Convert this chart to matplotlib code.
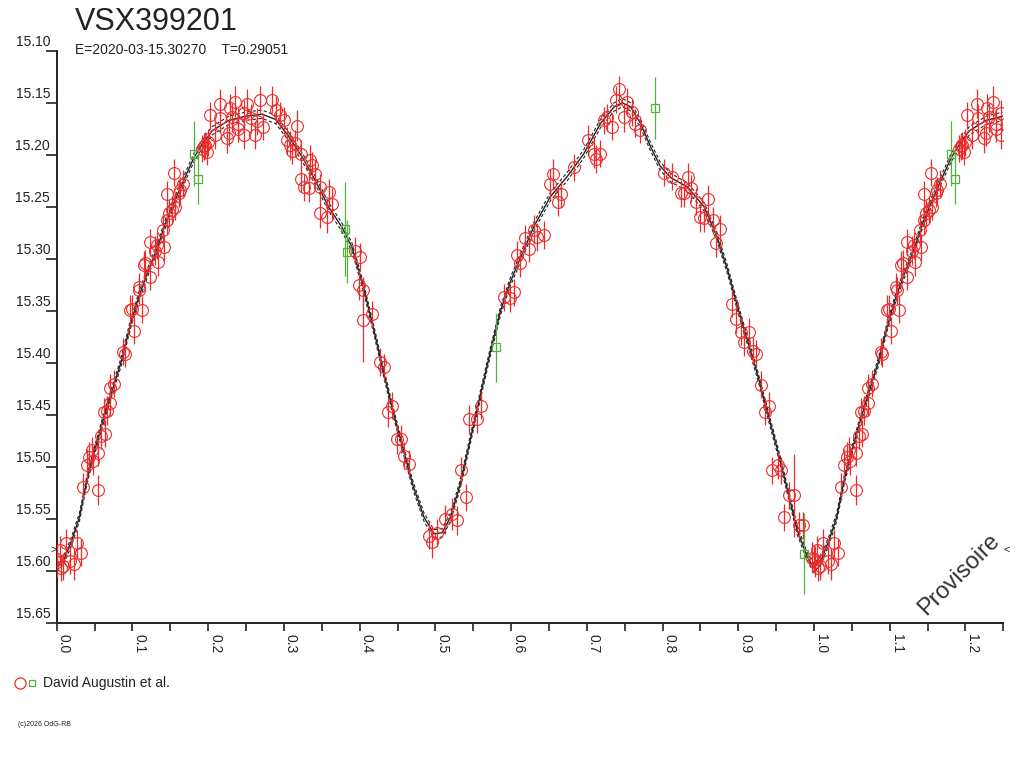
import numpy as np
import matplotlib
matplotlib.use("Agg")
import matplotlib.pyplot as plt
from matplotlib.transforms import ScaledTranslation

plt.rcParams['font.family'] = ['Liberation Sans', 'DejaVu Sans']

# ---- observations (phase in [0,1), magnitude, error) ----
red_phase = [
    0.000, 0.004, 0.001, 0.008, 0.012, 0.018, 0.023, 0.027, 0.032, 0.005,
    0.035, 0.055, 0.040, 0.043, 0.046, 0.055, 0.048, 0.064, 0.059, 0.066,
    0.062, 0.071, 0.071, 0.076, 0.090, 0.088, 0.102, 0.097, 0.099, 0.112,
    0.108, 0.109, 0.123, 0.117, 0.115, 0.134, 0.123, 0.130, 0.141, 0.132,
    0.140, 0.145, 0.148, 0.156, 0.152, 0.145, 0.161, 0.163, 0.167, 0.155,
    0.194, 0.198, 0.202, 0.196, 0.200, 0.192, 0.215, 0.216, 0.209, 0.225,
    0.227, 0.229, 0.236, 0.231, 0.240, 0.240, 0.247, 0.251, 0.247, 0.256,
    0.262, 0.264, 0.269, 0.273, 0.284, 0.289, 0.295, 0.300, 0.317, 0.304,
    0.308, 0.315, 0.311, 0.322, 0.335, 0.337, 0.341, 0.322, 0.326, 0.333,
    0.348, 0.359, 0.364, 0.348, 0.357, 0.394, 0.401, 0.399, 0.405, 0.405,
    0.416, 0.427, 0.432, 0.443, 0.438, 0.449, 0.454, 0.458, 0.465, 0.491,
    0.496, 0.502, 0.513, 0.522, 0.529, 0.540, 0.534, 0.544, 0.555, 0.560,
    0.591, 0.598, 0.604, 0.608, 0.612, 0.619, 0.623, 0.630, 0.634, 0.643,
    0.651, 0.656, 0.662, 0.666, 0.683, 0.701, 0.709, 0.712, 0.717, 0.723,
    0.727, 0.733, 0.738, 0.743, 0.749, 0.753, 0.760, 0.764, 0.770, 0.802,
    0.812, 0.824, 0.834, 0.828, 0.838, 0.844, 0.849, 0.855, 0.860, 0.867,
    0.876, 0.871, 0.892, 0.897, 0.903, 0.914, 0.908, 0.919, 0.924, 0.930,
    0.941, 0.935, 0.945, 0.957, 0.952, 0.967, 0.974, 0.961, 0.980, 0.985,
    0.998,
]
red_mag = [
    15.588, 15.580, 15.591, 15.595, 15.573, 15.590, 15.593, 15.573, 15.582, 15.597,
    15.519, 15.522, 15.498, 15.490, 15.484, 15.486, 15.494, 15.468, 15.470, 15.446,
    15.447, 15.438, 15.424, 15.420, 15.391, 15.389, 15.369, 15.349, 15.348, 15.349,
    15.327, 15.330, 15.317, 15.304, 15.306, 15.303, 15.284, 15.292, 15.289, 15.287,
    15.272, 15.263, 15.256, 15.250, 15.253, 15.238, 15.237, 15.234, 15.228, 15.217,
    15.192, 15.197, 15.162, 15.191, 15.188, 15.194, 15.151, 15.165, 15.181, 15.184,
    15.179, 15.155, 15.149, 15.164, 15.170, 15.175, 15.181, 15.151, 15.160, 15.165,
    15.181, 15.168, 15.147, 15.173, 15.147, 15.157, 15.162, 15.167, 15.172, 15.186,
    15.191, 15.189, 15.196, 15.199, 15.205, 15.210, 15.218, 15.223, 15.231, 15.232,
    15.231, 15.236, 15.247, 15.256, 15.260, 15.292, 15.298, 15.325, 15.330, 15.359,
    15.353, 15.399, 15.404, 15.441, 15.447, 15.473, 15.473, 15.489, 15.497, 15.566,
    15.572, 15.563, 15.550, 15.545, 15.551, 15.529, 15.503, 15.454, 15.454, 15.441,
    15.337, 15.338, 15.332, 15.296, 15.304, 15.280, 15.290, 15.272, 15.279, 15.277,
    15.228, 15.218, 15.245, 15.238, 15.212, 15.186, 15.199, 15.204, 15.199, 15.167,
    15.164, 15.173, 15.147, 15.137, 15.164, 15.149, 15.159, 15.170, 15.176, 15.217,
    15.221, 15.237, 15.221, 15.237, 15.232, 15.245, 15.260, 15.261, 15.242, 15.263,
    15.271, 15.285, 15.343, 15.358, 15.370, 15.370, 15.380, 15.388, 15.391, 15.421,
    15.441, 15.447, 15.503, 15.503, 15.498, 15.527, 15.527, 15.548, 15.556, 15.556,
    15.587,
]
red_err = [
    0.013, 0.014, 0.015, 0.013, 0.014, 0.013, 0.015, 0.013, 0.013, 0.012,
    0.013, 0.014, 0.015, 0.014, 0.013, 0.013, 0.014, 0.013, 0.013, 0.014,
    0.013, 0.013, 0.013, 0.013, 0.013, 0.013, 0.013, 0.014, 0.013, 0.013,
    0.013, 0.013, 0.013, 0.013, 0.014, 0.013, 0.013, 0.014, 0.013, 0.013,
    0.013, 0.013, 0.013, 0.013, 0.013, 0.013, 0.013, 0.013, 0.013, 0.013,
    0.013, 0.013, 0.013, 0.013, 0.013, 0.013, 0.014, 0.014, 0.013, 0.014,
    0.013, 0.013, 0.015, 0.014, 0.015, 0.013, 0.013, 0.014, 0.013, 0.014,
    0.013, 0.013, 0.013, 0.013, 0.013, 0.013, 0.013, 0.013, 0.015, 0.013,
    0.014, 0.013, 0.013, 0.013, 0.014, 0.013, 0.013, 0.013, 0.013, 0.013,
    0.013, 0.013, 0.015, 0.014, 0.015, 0.013, 0.013, 0.014, 0.013, 0.040,
    0.013, 0.013, 0.013, 0.013, 0.014, 0.014, 0.013, 0.013, 0.013, 0.013,
    0.015, 0.013, 0.014, 0.015, 0.014, 0.013, 0.013, 0.014, 0.013, 0.013,
    0.013, 0.013, 0.013, 0.013, 0.013, 0.013, 0.013, 0.014, 0.013, 0.013,
    0.014, 0.014, 0.014, 0.013, 0.013, 0.015, 0.014, 0.013, 0.013, 0.013,
    0.013, 0.013, 0.013, 0.013, 0.014, 0.013, 0.013, 0.013, 0.013, 0.013,
    0.013, 0.013, 0.013, 0.013, 0.013, 0.013, 0.014, 0.013, 0.013, 0.013,
    0.013, 0.013, 0.013, 0.013, 0.013, 0.013, 0.013, 0.013, 0.013, 0.013,
    0.013, 0.013, 0.013, 0.013, 0.013, 0.013, 0.040, 0.013, 0.013, 0.013,
    0.015,
]

green_phase = [0.1815, 0.186, 0.381, 0.383, 0.580, 0.790, 0.987]
green_mag = [15.199, 15.223, 15.271, 15.293, 15.385, 15.155, 15.583]
green_err = [0.031, 0.024, 0.045, 0.030, 0.033, 0.030, 0.039]

# ---- fitted light curve ----
fit_phase = [
    0.000, 0.010, 0.020, 0.030, 0.040, 0.050, 0.060, 0.070, 0.085, 0.097,
    0.108, 0.120, 0.132, 0.144, 0.156, 0.168, 0.181, 0.192, 0.205, 0.227,
    0.249, 0.271, 0.289, 0.306, 0.324, 0.341, 0.359, 0.377, 0.390, 0.405,
    0.419, 0.432, 0.445, 0.458, 0.471, 0.485, 0.498, 0.509, 0.520, 0.533,
    0.546, 0.560, 0.573, 0.586, 0.599, 0.610, 0.630, 0.652, 0.674, 0.696,
    0.718, 0.736, 0.747, 0.758, 0.771, 0.784, 0.797, 0.811, 0.833, 0.855,
    0.872, 0.886, 0.899, 0.912, 0.925, 0.938, 0.952, 0.965, 0.978, 0.991,
    1.000,
]
fit_mag = [
    15.597, 15.588, 15.570, 15.548, 15.512, 15.484, 15.458, 15.434, 15.399, 15.364,
    15.337, 15.313, 15.291, 15.265, 15.244, 15.224, 15.203, 15.190, 15.177, 15.167,
    15.163, 15.161, 15.166, 15.182, 15.202, 15.224, 15.250, 15.270, 15.289, 15.327,
    15.369, 15.410, 15.449, 15.484, 15.519, 15.548, 15.564, 15.563, 15.548, 15.516,
    15.474, 15.429, 15.388, 15.350, 15.322, 15.303, 15.269, 15.240, 15.221, 15.199,
    15.170, 15.154, 15.150, 15.154, 15.170, 15.192, 15.211, 15.222, 15.231, 15.250,
    15.279, 15.311, 15.346, 15.378, 15.410, 15.446, 15.484, 15.522, 15.561, 15.586,
    15.597,
]
fit_band = 0.004
min_level = 15.579

title = "VSX399201"
subtitle = "E=2020-03-15.30270    T=0.29051"
observer = "David Augustin et al."


def extend(ph, mg, er=None, upto=0.25):
    ph = np.asarray(ph)
    mg = np.asarray(mg)
    sel = ph < upto
    out = [np.concatenate([ph, ph[sel] + 1.0]), np.concatenate([mg, mg[sel]])]
    if er is not None:
        er = np.asarray(er)
        out.append(np.concatenate([er, er[sel]]))
    return out


rp, rm, re = extend(red_phase, red_mag, red_err)
gp, gm, ge = extend(green_phase, green_mag, green_err)
fp = np.asarray(fit_phase)
fm = np.asarray(fit_mag)
sel = (fp > 0) & (fp <= 0.26)
fp = np.concatenate([fp, fp[sel] + 1.0])
fm = np.concatenate([fm, fm[sel]])

fig = plt.figure(figsize=(10.24, 7.68), dpi=100)
ax = fig.add_axes([0.0554, 0.1884, 0.9244, 0.7456])

red = '#ee2a2a'
green = '#55b040'
ink = '#222222'

ax.plot(fp, fm, color=ink, lw=1.0, zorder=3)
ax.plot(fp, fm - fit_band, color=ink, lw=0.8, ls=(0, (3, 2)), zorder=3)
ax.plot(fp, fm + fit_band, color=ink, lw=0.8, ls=(0, (3, 2)), zorder=3)

ax.errorbar(rp, rm, yerr=re, fmt='o', ms=8.5, mfc='none', mec=red, mew=0.8,
            ecolor=red, elinewidth=0.9, capsize=0, zorder=4)
ax.errorbar(gp, gm, yerr=ge, fmt='s', ms=6, mfc='none', mec=green, mew=0.9,
            ecolor=green, elinewidth=0.9, capsize=0, zorder=4)

ax.set_xlim(0, 1.25)
ax.set_ylim(15.65, 15.10)

for s in ['top', 'right']:
    ax.spines[s].set_visible(False)
for s in ['left', 'bottom']:
    ax.spines[s].set_color(ink)
    ax.spines[s].set_linewidth(1.4)

xt = np.round(np.arange(0, 1.2501, 0.05), 2)
ax.set_xticks(xt)
ax.set_xticklabels([f"{v:.1f}" if abs(v * 10 - round(v * 10)) < 1e-6 else "" for v in xt],
                   rotation=-90, ha='left', va='top', fontsize=10, color=ink)
ax.tick_params(axis='x', length=6, width=1.2, color=ink, pad=2)

yt = np.round(np.arange(15.10, 15.651, 0.05), 2)
ax.set_yticks(yt)
ax.set_yticklabels([f"{v:.2f}" for v in yt], fontsize=10, color=ink, va='bottom')
ax.tick_params(axis='y', length=7.7, width=1.2, color=ink, pad=-3)
off = ScaledTranslation(0, 1.5 / 72, fig.dpi_scale_trans)
for lab in ax.get_yticklabels():
    lab.set_transform(lab.get_transform() + off)

# minimum level markers
ax.text(0, min_level, ">", ha='right', va='center', fontsize=8, color=ink)
ax.text(1.25, min_level, "<", ha='left', va='center', fontsize=8, color=ink)

ax.text(0.953, 0.085, "Provisoire", transform=ax.transAxes, rotation=45,
        ha='center', va='center', fontsize=17, color='#333333')

fig.text(75 / 1024, 1 - 30 / 768, title, fontsize=22, color=ink, va='baseline')
fig.text(75 / 1024, 1 - 54 / 768, subtitle, fontsize=10, color=ink, va='baseline')

# observer key
ax.plot([20 / 1024], [1 - 683 / 768], 'o', ms=8, mfc='none', mec=red, mew=0.9,
        transform=fig.transFigure, clip_on=False)
ax.plot([32 / 1024], [1 - 683 / 768], 's', ms=5, mfc='none', mec=green, mew=0.9,
        transform=fig.transFigure, clip_on=False)
fig.text(43 / 1024, 1 - 683 / 768, observer, fontsize=10, color=ink, va='center')
fig.text(18 / 1024, 1 - 725 / 768, "(c)2026 OdG-RB", fontsize=5, color=ink, va='center')

fig.savefig("out.png", dpi=100)
